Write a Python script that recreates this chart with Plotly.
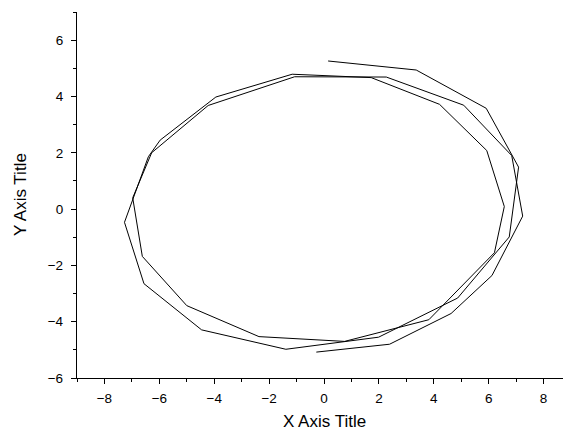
import plotly.graph_objects as go

# Data (spiral path, in data units)
x_vals = [0.15, 3.36, 5.91, 7.09, 6.75, 4.87, 1.99, -1.39, -4.46, -6.56, -7.27,
          -6.40, -5.97, -3.94, -1.16, 1.72, 4.21, 5.93, 6.57, 6.21, 3.82, 0.75,
          -2.37, -5.00, -6.62, -6.97, -6.28, -4.22, -1.07, 2.27, 5.09, 6.84,
          7.24, 6.12, 4.63, 2.39, -0.28]
y_vals = [5.26, 4.94, 3.58, 1.49, -0.99, -3.16, -4.55, -4.98, -4.29, -2.65, -0.47,
          1.86, 2.45, 3.98, 4.79, 4.67, 3.72, 2.08, 0.09, -1.55, -3.93, -4.70,
          -4.53, -3.43, -1.68, 0.40, 2.00, 3.68, 4.70, 4.69, 3.69, 1.90,
          -0.25, -2.36, -3.71, -4.80, -5.08]

x_title = "X Axis Title"
y_title = "Y Axis Title"

# page body has an 8px default margin, so the figure is sized to fit the window
OFF = 8
W, H = 571 - OFF, 432 - OFF
L, R, T, B = 77 - OFF, 0, 12 - OFF, 54
pw, ph = W - L - R, H - T - B

fig = go.Figure()
fig.add_trace(go.Scatter(x=x_vals, y=y_vals, mode="lines",
                         line=dict(color="black", width=1), showlegend=False))

font_family = "Arial, Liberation Sans, sans-serif"
axis_common = dict(
    showline=True, linecolor="black", linewidth=1.3, mirror=False,
    showgrid=False, zeroline=False, automargin=False,
    ticks="outside", ticklen=5, tickwidth=1, tickcolor="black",
    tickfont=dict(family=font_family, size=13.5, color="black"),
    minor=dict(ticks="outside", ticklen=3, tickwidth=1, tickcolor="black", dtick=1, showgrid=False),
)

fig.update_layout(
    width=W, height=H,
    margin=dict(l=L, r=R, t=T, b=B),
    paper_bgcolor="white", plot_bgcolor="white",
    font=dict(family=font_family, color="black"),
    xaxis=dict(range=[-9, 9], tick0=0, dtick=2, ticklabelstandoff=3, **axis_common),
    yaxis=dict(range=[-6, 7], tick0=0, dtick=2, ticklabelstandoff=5, **axis_common),
    annotations=[
        dict(text=x_title, xref="paper", yref="paper", x=0.5,
             y=(ph - (422 - OFF - T)) / ph,
             xanchor="center", yanchor="middle", showarrow=False,
             font=dict(size=17, family=font_family, color="black")),
        dict(text=y_title, xref="paper", yref="paper", x=(20 - OFF - L) / pw, y=0.5,
             xanchor="center", yanchor="middle", showarrow=False, textangle=-90,
             font=dict(size=17, family=font_family, color="black")),
    ],
)

fig.write_html("out.html")
